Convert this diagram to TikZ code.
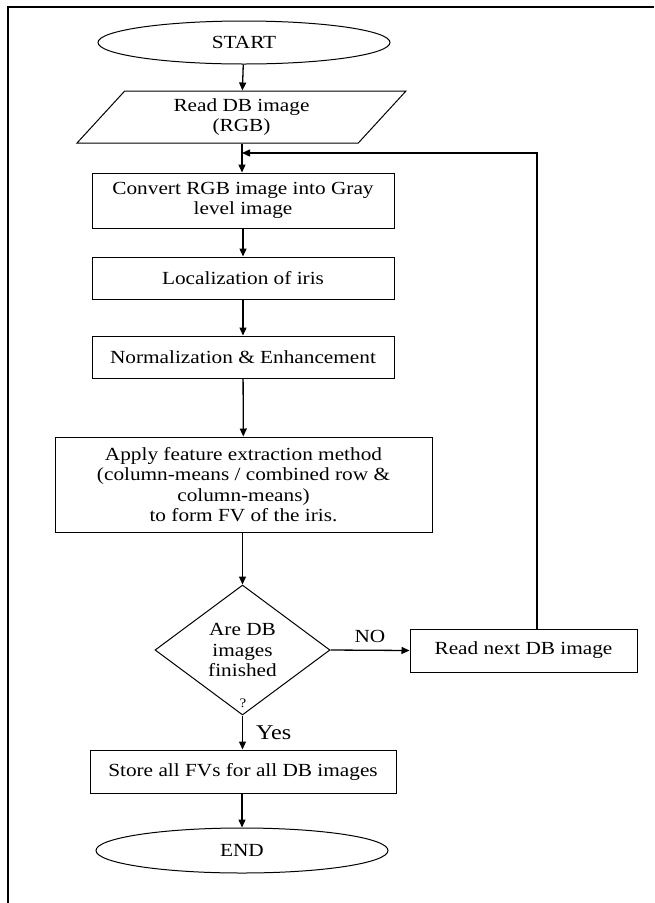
\documentclass[tikz,border=0pt]{standalone}
\usepackage{fontspec}
\setmainfont{Liberation Serif}[FakeStretch=1.15]
\usetikzlibrary{shapes.geometric,arrows.meta}
\begin{document}
\begin{tikzpicture}[x=1pt,y=1pt,>={Triangle[length=8pt,width=7pt]}]
    \tikzstyle{every node}+=[inner sep=0pt, align=center, font=\fontsize{18.5}{20.5}\selectfont]
    \tikzstyle{procbox}=[draw, line width=1pt, rectangle]
    \tikzstyle{termbox}=[draw, line width=1pt, ellipse, minimum width=292, minimum height=43]
    \tikzstyle{link}=[->, line width=1.3pt]
    \useasboundingbox (0,0) rectangle (654,-903);
    \draw [line width=1.8pt] (8,-903) -- (8,-7) -- (654,-7);
    \node (start) at (244,-42.5) [termbox] {START};
    \node (read) at (241.5,-117) [draw, line width=1pt, trapezium, trapezium left angle=38, trapezium right angle=142, trapezium stretches body, minimum width=329, minimum height=52] {Read DB image\\(RGB)};
    \coordinate (join) at (242,-153);
    \node (conv) at (243,-200.5) [procbox, minimum width=302, minimum height=55] {Convert RGB image into Gray\\level image};
    \node (local) at (243,-278) [procbox, minimum width=302, minimum height=42] {Localization of iris};
    \node (norm) at (243,-357) [procbox, minimum width=302, minimum height=42] {Normalization \& Enhancement};
    \node (apply) at (243.5,-484.5) [procbox, minimum width=377, minimum height=95] {Apply feature extraction method\\(column-means / combined row \&\\column-means)\\to form FV of the iris.};
    \node (done) at (242.5,-650) [draw, line width=1pt, diamond, aspect=1.35, minimum width=175, minimum height=130] {Are DB\\images\\finished};
    \node (quest) at (243,-703) [font=\fontsize{13}{15}\selectfont] {?};
    \node (next) at (523.5,-650.5) [procbox, minimum width=227, minimum height=43] {Read next DB image};
    \node (store) at (243,-771.5) [procbox, minimum width=306, minimum height=43] {Store all FVs for all DB images};
    \node (stop) at (242,-850.5) [termbox, minimum height=45] {END};
    \draw [link] (start) -- (read);
    \draw [line width=1.3pt] (read.south -| join) -- (join);
    \draw [link] (join) -- (conv.north -| join);
    \draw [link] (conv) -- (local);
    \draw [link] (local) -- (norm);
    \draw [link] (norm) -- (apply);
    \draw [link] (apply.south -| done) -- (done);
    \draw [link] (done.east) -- node [above=7pt] {NO} (next.west);
    \draw [link] ([xshift=13.5pt]next.north) |- (join);
    \draw [link] (done.south) -- node [right=13pt, font=\fontsize{21}{24}\selectfont] {Yes} (store.north -| done.south);
    \draw [link] (store.south -| stop) -- (stop);
\end{tikzpicture}
\end{document}
